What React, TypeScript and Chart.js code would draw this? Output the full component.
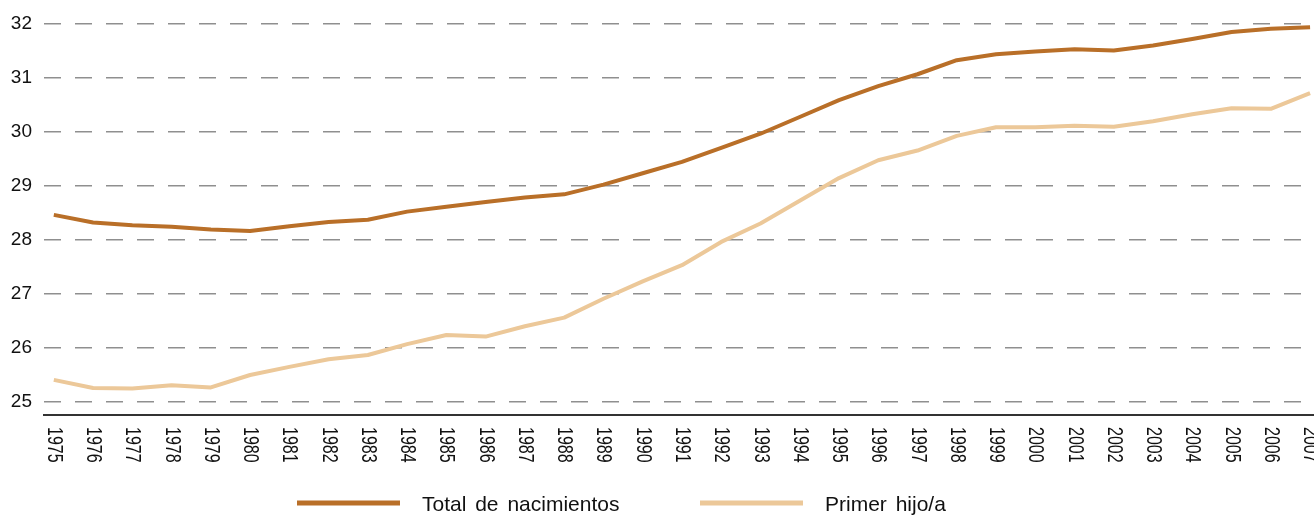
import React, { useEffect, useRef } from "react";
import { Chart, registerables } from "chart.js";

Chart.register(...registerables);

const years = [
  1975, 1976, 1977, 1978, 1979, 1980, 1981, 1982, 1983, 1984, 1985, 1986, 1987,
  1988, 1989, 1990, 1991, 1992, 1993, 1994, 1995, 1996, 1997, 1998, 1999, 2000,
  2001, 2002, 2003, 2004, 2005, 2006, 2007,
];

const totalNacimientos = [
  28.46, 28.32, 28.27, 28.24, 28.19, 28.16, 28.25, 28.33, 28.37, 28.52, 28.61,
  28.7, 28.78, 28.84, 29.02, 29.23, 29.44, 29.7, 29.96, 30.27, 30.58, 30.84,
  31.06, 31.32, 31.43, 31.48, 31.52, 31.5, 31.59, 31.71, 31.84, 31.9, 31.93,
];

const primerHijo = [
  25.41, 25.26, 25.25, 25.31, 25.27, 25.5, 25.65, 25.79, 25.87, 26.07, 26.24,
  26.21, 26.4, 26.56, 26.91, 27.23, 27.53, 27.96, 28.3, 28.72, 29.14, 29.47,
  29.65, 29.92, 30.08, 30.08, 30.11, 30.09, 30.19, 30.32, 30.43, 30.42, 30.71,
];

const yTicks = [25, 26, 27, 28, 29, 30, 31, 32];

const seriesNames = ["Total de nacimientos", "Primer hijo/a"];
const seriesColors = ["#b96f28", "#ecc899"];

const FONT = "'Liberation Sans', Arial, Helvetica, sans-serif";

const xLabelsPlugin = {
  id: "xLabelsRotated",
  afterDraw(chart: any) {
    const ctx = chart.ctx;
    const xs = chart.scales.x;
    const y0 = chart.chartArea.bottom + 12;
    ctx.save();
    ctx.fillStyle = "#111";
    ctx.font = `16px ${FONT}`;
    ctx.textAlign = "left";
    ctx.textBaseline = "middle";
    years.forEach((yr) => {
      const x = xs.getPixelForValue(yr);
      ctx.save();
      ctx.translate(x, y0);
      ctx.scale(1.35, 1);
      ctx.rotate(Math.PI / 2);
      ctx.fillText(String(yr), 0, 0);
      ctx.restore();
    });
    ctx.restore();
  },
};

const legendPlugin = {
  id: "customLegend",
  afterDraw(chart: any) {
    const ctx = chart.ctx;
    const items = [
      { x0: 297, x1: 400, tx: 422 },
      { x0: 700, x1: 803, tx: 825 },
    ];
    ctx.save();
    ctx.font = `21px ${FONT}`;
    try {
      (ctx as any).wordSpacing = "3px";
    } catch (e) {}
    ctx.textBaseline = "middle";
    ctx.textAlign = "left";
    items.forEach((it, i) => {
      const ds = chart.data.datasets[i];
      ctx.strokeStyle = ds.borderColor;
      ctx.lineWidth = 5;
      ctx.beginPath();
      ctx.moveTo(it.x0, 503);
      ctx.lineTo(it.x1, 503);
      ctx.stroke();
      ctx.fillStyle = "#111";
      ctx.fillText(ds.label, it.tx, 505);
    });
    ctx.restore();
  },
};

export default function App() {
  const ref = useRef<HTMLCanvasElement | null>(null);

  useEffect(() => {
    document.body.style.margin = "0";
    if (!ref.current) return;
    const chart = new Chart(ref.current, {
      type: "line",
      data: {
        datasets: [totalNacimientos, primerHijo].map((vals, i) => ({
          label: seriesNames[i],
          data: years.map((yr, j) => ({ x: yr, y: vals[j] })),
          borderColor: seriesColors[i],
          backgroundColor: seriesColors[i],
          borderWidth: 4,
          pointRadius: 0,
          tension: 0,
          borderJoinStyle: "round" as const,
        })),
      },
      options: {
        animation: false,
        responsive: false,
        maintainAspectRatio: false,
        layout: { padding: { top: 0, right: 0, left: 0, bottom: 0 } },
        plugins: {
          legend: { display: false },
          tooltip: { enabled: false },
          title: { display: false },
        },
        scales: {
          x: {
            type: "linear",
            min: 1974.75,
            max: 2007.1,
            ticks: { display: false },
            grid: { display: false, drawTicks: false },
            border: { display: true, color: "#333", width: 2 },
            afterFit: (s: any) => {
              s.height = 100;
            },
          },
          y: {
            min: 24.76,
            max: 32,
            afterBuildTicks: (s: any) => {
              s.ticks = yTicks.map((v) => ({ value: v }));
            },
            afterFit: (s: any) => {
              s.width = 44;
            },
            ticks: {
              font: { size: 19, family: FONT },
              color: "#111",
              padding: 12,
            },
            grid: {
              color: "#8f8f8f",
              lineWidth: 1.5,
              drawTicks: false,
              tickLength: 0,
            },
            border: { display: false, dash: [17, 14] },
          },
        },
      },
      plugins: [xLabelsPlugin, legendPlugin],
    });
    return () => chart.destroy();
  }, []);

  return (
    <div style={{ width: 1314, height: 515 }}>
      <canvas ref={ref} width={1314} height={515} />
    </div>
  );
}
